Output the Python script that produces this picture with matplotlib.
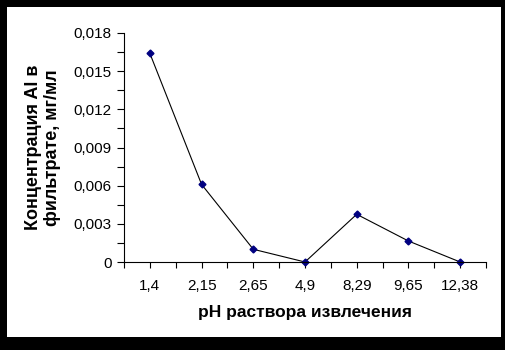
import numpy as np
import matplotlib
matplotlib.use("Agg")
import matplotlib.pyplot as plt
from matplotlib.patches import Rectangle
from matplotlib.ticker import FixedLocator, MultipleLocator, FuncFormatter

# pH values (categories) and Al concentration, mg/ml
ph_labels = ["1,4", "2,15", "2,65", "4,9", "8,29", "9,65", "12,38"]
conc = [0.0164, 0.0061, 0.0010, 0.0, 0.00375, 0.00165, 0.0]

plt.rcParams['font.family'] = ['Liberation Sans', 'DejaVu Sans']

fig = plt.figure(figsize=(5.05, 3.5), dpi=100, facecolor='black')
# white chart area inside the black frame
fig.patches.append(Rectangle((7/505, 13/350), 494/505, 330/350,
                             transform=fig.transFigure, facecolor='white',
                             edgecolor='none', zorder=-10))

ax = fig.add_axes([124/505, 88/350, 362/505, 229/350])
ax.set_facecolor('none')

x = np.arange(len(ph_labels))
ax.plot(x, conc, color='black', lw=0.8, marker='D', markersize=3.5,
        markerfacecolor='#000080', markeredgecolor='#000080', clip_on=False)

ax.set_xlim(-0.5, len(ph_labels) - 0.5)
ax.set_ylim(0, 0.018)

ax.spines['top'].set_visible(False)
ax.spines['right'].set_visible(False)
for s in ('left', 'bottom'):
    ax.spines[s].set_linewidth(0.8)

ax.set_xticks(x)
ax.set_xticklabels(ph_labels)
ax.xaxis.set_minor_locator(FixedLocator(np.arange(-0.5, len(ph_labels), 1.0)))
ax.yaxis.set_major_locator(MultipleLocator(0.003))
ax.yaxis.set_minor_locator(MultipleLocator(0.0015))
ax.yaxis.set_major_formatter(FuncFormatter(
    lambda v, p: "0" if abs(v) < 1e-12 else f"{v:.3f}".replace('.', ',')))

ax.tick_params(axis='x', which='both', direction='out', length=4, width=0.8,
               labelsize=11, pad=8)
ax.tick_params(axis='y', which='both', direction='out', length=5, width=0.8,
               labelsize=11, pad=4)

ax.set_xlabel("pH раствора извлечения", fontsize=12.5, fontweight='bold',
              labelpad=9)
ax.set_ylabel("Концентрация Al в\nфильтрате, мг/мл", fontsize=13,
              fontweight='bold', labelpad=9, linespacing=1.15)

fig.savefig("out.png", dpi=100, facecolor='black')
